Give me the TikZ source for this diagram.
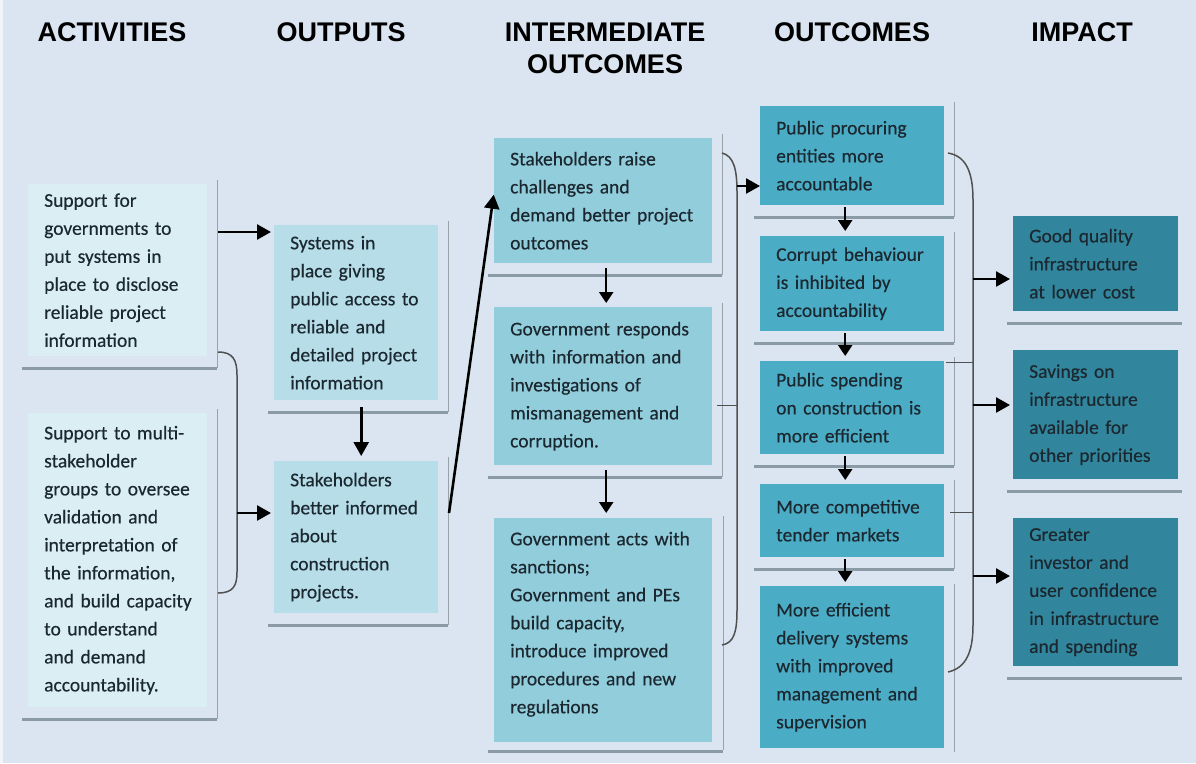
\documentclass[tikz,border=0pt]{standalone}
\usepackage{fontspec}
\setmainfont{Carlito}
\newfontfamily\boxfont{Carlito}[FakeBold=0.35]
\newfontfamily\headfont{Liberation Sans}
\usetikzlibrary{arrows.meta,calc}

\definecolor{bgc}{HTML}{DBE5F1}
\definecolor{actc}{HTML}{DAEEF3}
\definecolor{outc}{HTML}{B6DDE8}
\definecolor{intc}{HTML}{92CDDC}
\definecolor{ocmc}{HTML}{4BACC6}
\definecolor{impc}{HTML}{31859C}
\definecolor{shadeline}{HTML}{8A9BA5}
\definecolor{edgeline}{HTML}{98A2A8}
\definecolor{bracec}{HTML}{505050}
\definecolor{txtc}{HTML}{1C2830}

\tikzset{
  stagebox/.style={rectangle, inner xsep=8pt, inner ysep=2pt, align=left,
    text=txtc, font=\boxfont\fontsize{19.5}{28}\selectfont, anchor=north west},
  head/.style={font=\headfont\bfseries\fontsize{27}{32}\selectfont, align=center, text=black},
  rline/.style={draw=edgeline, line width=1.4pt},
  bline/.style={draw=shadeline, line width=3pt},
  brace/.style={draw=bracec, line width=1.5pt},
  tick/.style={draw=bracec, line width=1pt},
  arr/.style={draw=black, line width=2.6pt, -{Triangle[length=14pt,width=15pt]}},
  sarr/.style={draw=black, line width=2.4pt, -{Triangle[length=11pt,width=14pt]}}
}

% box given by left, top, right, bottom edges (pixel units, y downwards);
% the text sits 16pt from the left edge
\newcommand\mkstage[7]{%
  \pgfmathsetmacro\stw{#4-#2}%
  \pgfmathsetmacro\sth{#5-#3}%
  \pgfmathsetmacro\stt{#4-#2-16}%
  \node[stagebox, fill=#6, minimum width=\stw pt, minimum height=\sth pt,
        text width=\stt pt] (#1) at (#2,#3) {\leftskip=8pt\relax #7\par};%
}

\begin{document}
\begin{tikzpicture}[x=1pt,y=-1pt]
\useasboundingbox (0,0) rectangle (1196,763);
\fill[bgc] (0,0) rectangle (1196,763);
\fill[bgc!40!white] (0,0) rectangle (3,763);

% column headings
\node[head] (hAct) at (112,32) {ACTIVITIES};
\node[head] (hOut) at (341,32) {OUTPUTS};
\node[head] (hInt) at (605,48) {INTERMEDIATE\\OUTCOMES};
\node[head] (hOcm) at (852,32) {OUTCOMES};
\node[head] (hImp) at (1082,32) {IMPACT};

% activities
\mkstage{A1}{28}{184}{207}{356}{actc}{Support for\\governments to\\put systems in\\place to disclose\\reliable project\\information}
\mkstage{A2}{28}{413}{207}{707}{actc}{Support to multi-\\stakeholder\\groups to oversee\\validation and\\interpretation of\\the information,\\and build capacity\\to understand\\and demand\\accountability.}

% outputs
\mkstage{Out1}{274}{225}{438}{400}{outc}{Systems in\\place giving\\public access to\\reliable and\\detailed project\\information}
\mkstage{Out2}{274}{461}{438}{613}{outc}{Stakeholders\\better informed\\about\\construction\\projects.}

% intermediate outcomes
\mkstage{Int1}{494}{138}{712}{263}{intc}{Stakeholders raise\\challenges and\\demand better project\\outcomes}
\mkstage{Int2}{494}{307}{712}{465}{intc}{Government responds\\with information and\\investigations of\\mismanagement and\\corruption.}
\mkstage{Int3}{494}{518}{712}{742}{intc}{Government acts with\\sanctions;\\Government and PEs\\build capacity,\\introduce improved\\procedures and new\\regulations\par\vspace*{12pt}}

% outcomes
\mkstage{O1}{760}{106}{944}{205}{ocmc}{Public procuring\\entities more\\accountable}
\mkstage{O2}{760}{236}{944}{331}{ocmc}{Corrupt behaviour\\is inhibited by\\accountability}
\mkstage{O3}{760}{361}{944}{454}{ocmc}{Public spending\\on construction is\\more efficient}
\mkstage{O4}{760}{484}{944}{557}{ocmc}{More competitive\\tender markets}
\mkstage{O5}{760}{586}{944}{748}{ocmc}{More efficient\\delivery systems\\with improved\\management and\\supervision}

% impact
\mkstage{I1}{1013}{216}{1178}{311}{impc}{Good quality\\infrastructure\\at lower cost}
\mkstage{I2}{1013}{350}{1178}{479}{impc}{Savings on\\infrastructure\\available for\\other priorities}
\mkstage{I3}{1013}{518}{1178}{666}{impc}{Greater\\investor and\\user confidence\\in infrastructure\\and spending}

% frame edges beside and under the boxes
\foreach \n in {A1,A2,Out1,Out2,Int1,Int2,O1,O2,O3,O4}{
  \draw[rline] ([xshift=10pt,yshift=4pt]\n.north east) -- ([xshift=10pt,yshift=-12pt]\n.south east);
  \draw[bline] ([xshift=-6pt,yshift=-12pt]\n.south west) -- ([xshift=10pt,yshift=-12pt]\n.south east);
}
\draw[rline] ([xshift=11pt,yshift=2pt]Int3.north east) -- ([xshift=11pt,yshift=-8pt]Int3.south east);
\draw[bline] ([xshift=-6pt,yshift=-9pt]Int3.south west) -- ([xshift=11pt,yshift=-9pt]Int3.south east);
\draw[rline] ([xshift=10pt,yshift=2pt]O5.north east) -- ([xshift=10pt,yshift=-4pt]O5.south east);
\foreach \n in {I1,I2,I3}{
  \draw[bline] ([xshift=-6pt,yshift=-12pt]\n.south west) -- ([xshift=4pt,yshift=-12pt]\n.south east);
}

% bracket joining the two activities
\coordinate (actTop) at (218,352);
\coordinate (actBot) at (218,593);
\coordinate (actJoin) at (237,513);
\draw[brace] (actTop) .. controls (233,352) and (237,360) .. (237,375)
  -- (237,572) .. controls (237,586) and (233,593) .. (actBot);

% bracket joining the intermediate outcomes
\coordinate (intTop) at (722,153);
\coordinate (intBot) at (722,645);
\coordinate (intJoin) at (737,186);
\coordinate (intTick) at (717,405);
\draw[brace] (intTop) .. controls (734,156) and (737,170) .. (737,192)
  -- (737,610) .. controls (737,632) and (734,643) .. (intBot);
\draw[tick] (intTick) -- (intTick -| intJoin);

% bracket joining the outcomes
\coordinate (ocmTop) at (948,153);
\coordinate (ocmBot) at (948,672);
\coordinate (ocmTickA) at (946,362);
\coordinate (ocmTickB) at (950,512);
\coordinate (impA) at (973,279);
\coordinate (impB) at (973,405);
\coordinate (impC) at (973,576);
\draw[brace] (ocmTop) .. controls (966,156) and (973,172) .. (973,200)
  -- (973,625) .. controls (973,652) and (966,668) .. (ocmBot);
\draw[tick] (ocmTickA) -- (ocmTickA -| impA);
\draw[tick] (ocmTickB) -- (ocmTickB -| impA);

% activities to outputs
\coordinate (actOut) at (218,232);
\draw[arr, shorten >=3pt] (actOut) -- (actOut -| Out1.west);
\draw[arr, shorten >=3pt] (actJoin) -- (actJoin -| Out2.west);

% outputs
\draw[arr, shorten >=5pt] ([xshift=5pt,yshift=-7pt]Out1.south) -- ([xshift=5pt]Out2.north);
\coordinate (outUp) at (449,513);
\draw[arr, shorten >=2pt] (outUp) -- ([yshift=8pt]Int1.west);

% intermediate outcomes
\draw[sarr, shorten >=4pt] ([xshift=3pt,yshift=-5pt]Int1.south) -- ([xshift=3pt]Int2.north);
\draw[sarr, shorten >=5pt] ([xshift=3pt,yshift=-5pt]Int2.south) -- ([xshift=3pt]Int3.north);
\draw[arr] (intJoin) -- (intJoin -| O1.west);

% outcomes
\draw[sarr, shorten >=5pt] ([xshift=-7pt,yshift=-2pt]O1.south) -- ([xshift=-7pt]O2.north);
\draw[sarr, shorten >=5pt] ([xshift=-7pt,yshift=-2pt]O2.south) -- ([xshift=-7pt]O3.north);
\draw[sarr, shorten >=4pt] ([xshift=-7pt,yshift=-2pt]O3.south) -- ([xshift=-7pt]O4.north);
\draw[sarr, shorten >=4pt] ([xshift=-7pt,yshift=-2pt]O4.south) -- ([xshift=-7pt]O5.north);

% outcomes to impact
\draw[arr, shorten >=3pt] (impA) -- (impA -| I1.west);
\draw[arr, shorten >=3pt] (impB) -- (impB -| I2.west);
\draw[arr, shorten >=3pt] (impC) -- (impC -| I3.west);
\end{tikzpicture}
\end{document}
